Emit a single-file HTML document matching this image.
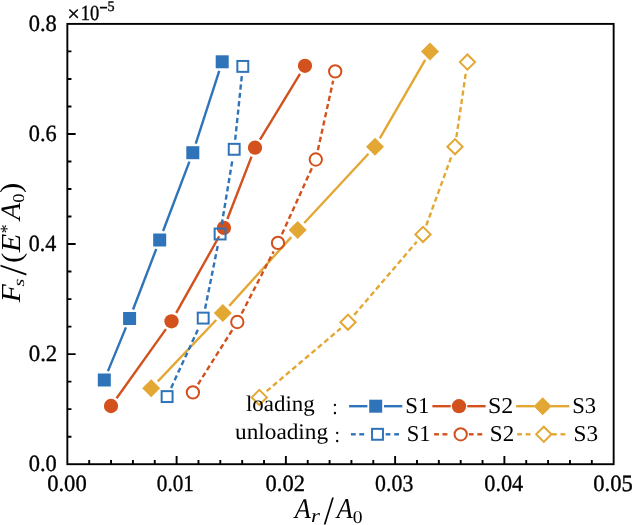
<!DOCTYPE html>
<html><head><meta charset="utf-8"><style>
html,body{margin:0;padding:0;background:#fff;}
svg{display:block;}
svg{will-change:transform;}
.b{stroke:#000;stroke-width:0.35px;}
text{text-rendering:geometricPrecision;}
</style></head><body>
<svg width="632" height="525" viewBox="0 0 632 525">
<line x1="107.95" y1="371.12" x2="125.95" y2="327.38" stroke="#2f73b8" stroke-width="2.4" />
<line x1="133.04" y1="309.54" x2="156.26" y2="248.96" stroke="#2f73b8" stroke-width="2.4" />
<line x1="163.10" y1="231.02" x2="189.40" y2="161.68" stroke="#2f73b8" stroke-width="2.4" />
<line x1="195.75" y1="143.57" x2="219.25" y2="70.93" stroke="#2f73b8" stroke-width="2.4" />
<rect x="97.80" y="373.50" width="13" height="13" fill="#2f73b8"/>
<rect x="123.10" y="312.00" width="13" height="13" fill="#2f73b8"/>
<rect x="153.20" y="233.50" width="13" height="13" fill="#2f73b8"/>
<rect x="186.30" y="146.20" width="13" height="13" fill="#2f73b8"/>
<rect x="215.70" y="55.30" width="13" height="13" fill="#2f73b8"/>
<line x1="116.58" y1="398.19" x2="165.92" y2="329.11" stroke="#d2511d" stroke-width="2.4" />
<line x1="176.20" y1="312.93" x2="219.20" y2="236.27" stroke="#d2511d" stroke-width="2.4" />
<line x1="227.37" y1="218.95" x2="251.53" y2="156.65" stroke="#d2511d" stroke-width="2.4" />
<line x1="260.00" y1="139.51" x2="300.00" y2="73.99" stroke="#d2511d" stroke-width="2.4" />
<circle cx="111.00" cy="406.00" r="7.15" fill="#d2511d"/>
<circle cx="171.50" cy="321.30" r="7.15" fill="#d2511d"/>
<circle cx="223.90" cy="227.90" r="7.15" fill="#d2511d"/>
<circle cx="255.00" cy="147.70" r="7.15" fill="#d2511d"/>
<circle cx="305.00" cy="65.80" r="7.15" fill="#d2511d"/>
<line x1="157.82" y1="381.34" x2="216.18" y2="319.96" stroke="#e3a733" stroke-width="2.4" />
<line x1="229.23" y1="305.87" x2="291.27" y2="237.13" stroke="#e3a733" stroke-width="2.4" />
<line x1="304.23" y1="222.96" x2="368.47" y2="153.74" stroke="#e3a733" stroke-width="2.4" />
<line x1="379.81" y1="138.39" x2="425.19" y2="59.91" stroke="#e3a733" stroke-width="2.4" />
<path d="M142.20 388.30L151.20 379.30L160.20 388.30L151.20 397.30Z" fill="#e3a733"/>
<path d="M213.80 313.00L222.80 304.00L231.80 313.00L222.80 322.00Z" fill="#e3a733"/>
<path d="M288.70 230.00L297.70 221.00L306.70 230.00L297.70 239.00Z" fill="#e3a733"/>
<path d="M366.00 146.70L375.00 137.70L384.00 146.70L375.00 155.70Z" fill="#e3a733"/>
<path d="M421.00 51.60L430.00 42.60L439.00 51.60L430.00 60.60Z" fill="#e3a733"/>
<line x1="171.11" y1="387.88" x2="199.19" y2="326.82" stroke="#2f73b8" stroke-width="2.4" stroke-dasharray="5.2 3.2"/>
<line x1="205.09" y1="308.69" x2="218.21" y2="243.41" stroke="#2f73b8" stroke-width="2.4" stroke-dasharray="5.2 3.2"/>
<line x1="221.68" y1="224.53" x2="232.62" y2="158.77" stroke="#2f73b8" stroke-width="2.4" stroke-dasharray="5.2 3.2"/>
<line x1="235.19" y1="139.75" x2="241.81" y2="75.95" stroke="#2f73b8" stroke-width="2.4" stroke-dasharray="5.2 3.2"/>
<rect x="161.65" y="391.15" width="10.9" height="10.9" fill="none" stroke="#2f73b8" stroke-width="2.0"/>
<rect x="197.75" y="312.65" width="10.9" height="10.9" fill="none" stroke="#2f73b8" stroke-width="2.0"/>
<rect x="214.65" y="228.55" width="10.9" height="10.9" fill="none" stroke="#2f73b8" stroke-width="2.0"/>
<rect x="228.75" y="143.85" width="10.9" height="10.9" fill="none" stroke="#2f73b8" stroke-width="2.0"/>
<rect x="237.35" y="60.95" width="10.9" height="10.9" fill="none" stroke="#2f73b8" stroke-width="2.0"/>
<line x1="198.02" y1="384.28" x2="232.18" y2="330.12" stroke="#d2511d" stroke-width="2.4" stroke-dasharray="5.2 3.2"/>
<line x1="241.69" y1="313.46" x2="273.61" y2="251.44" stroke="#d2511d" stroke-width="2.4" stroke-dasharray="5.2 3.2"/>
<line x1="281.96" y1="234.16" x2="311.84" y2="168.24" stroke="#d2511d" stroke-width="2.4" stroke-dasharray="5.2 3.2"/>
<line x1="317.86" y1="150.12" x2="333.14" y2="80.78" stroke="#d2511d" stroke-width="2.4" stroke-dasharray="5.2 3.2"/>
<circle cx="192.90" cy="392.40" r="6.15" fill="none" stroke="#d2511d" stroke-width="2.0"/>
<circle cx="237.30" cy="322.00" r="6.15" fill="none" stroke="#d2511d" stroke-width="2.0"/>
<circle cx="278.00" cy="242.90" r="6.15" fill="none" stroke="#d2511d" stroke-width="2.0"/>
<circle cx="315.80" cy="159.50" r="6.15" fill="none" stroke="#d2511d" stroke-width="2.0"/>
<circle cx="335.20" cy="71.40" r="6.15" fill="none" stroke="#d2511d" stroke-width="2.0"/>
<line x1="266.62" y1="391.19" x2="340.68" y2="328.41" stroke="#e3a733" stroke-width="2.4" stroke-dasharray="5.2 3.2"/>
<line x1="354.24" y1="314.90" x2="416.76" y2="241.70" stroke="#e3a733" stroke-width="2.4" stroke-dasharray="5.2 3.2"/>
<line x1="426.29" y1="225.38" x2="451.71" y2="155.72" stroke="#e3a733" stroke-width="2.4" stroke-dasharray="5.2 3.2"/>
<line x1="456.39" y1="137.20" x2="466.01" y2="71.60" stroke="#e3a733" stroke-width="2.4" stroke-dasharray="5.2 3.2"/>
<path d="M251.70 397.40L259.30 389.80L266.90 397.40L259.30 405.00Z" fill="none" stroke="#e3a733" stroke-width="2.0"/>
<path d="M340.40 322.20L348.00 314.60L355.60 322.20L348.00 329.80Z" fill="none" stroke="#e3a733" stroke-width="2.0"/>
<path d="M415.40 234.40L423.00 226.80L430.60 234.40L423.00 242.00Z" fill="none" stroke="#e3a733" stroke-width="2.0"/>
<path d="M447.40 146.70L455.00 139.10L462.60 146.70L455.00 154.30Z" fill="none" stroke="#e3a733" stroke-width="2.0"/>
<path d="M459.80 62.10L467.40 54.50L475.00 62.10L467.40 69.70Z" fill="none" stroke="#e3a733" stroke-width="2.0"/>
<path d="M89.20 464.20V460.10M111.05 464.20V460.10M132.91 464.20V460.10M154.76 464.20V460.10M176.61 464.20V455.90M198.46 464.20V460.10M220.31 464.20V460.10M242.17 464.20V460.10M264.02 464.20V460.10M285.87 464.20V455.90M307.72 464.20V460.10M329.57 464.20V460.10M351.43 464.20V460.10M373.28 464.20V460.10M395.13 464.20V455.90M416.98 464.20V460.10M438.83 464.20V460.10M460.69 464.20V460.10M482.54 464.20V460.10M504.39 464.20V455.90M526.24 464.20V460.10M548.09 464.20V460.10M569.95 464.20V460.10M591.80 464.20V460.10M67.35 436.68H71.45M67.35 409.16H71.45M67.35 381.64H71.45M67.35 354.12H75.65M67.35 326.61H71.45M67.35 299.09H71.45M67.35 271.57H71.45M67.35 244.05H75.65M67.35 216.53H71.45M67.35 189.01H71.45M67.35 161.49H71.45M67.35 133.97H75.65M67.35 106.46H71.45M67.35 78.94H71.45M67.35 51.42H71.45" stroke="#000" stroke-width="1.9" fill="none"/>
<rect x="67.35" y="23.90" width="546.30" height="440.30" fill="none" stroke="#000" stroke-width="1.9"/>
<text class="b" font-family="Liberation Serif" font-size="23.263" fill="#000" transform="translate(47.138 491.071) scale(0.9733 1)">0.00</text>
<text class="b" font-family="Liberation Serif" font-size="23.263" fill="#000" transform="translate(156.791 491.071) scale(0.9134 1)">0.01</text>
<text class="b" font-family="Liberation Serif" font-size="23.263" fill="#000" transform="translate(265.543 491.071) scale(0.9678 1)">0.02</text>
<text class="b" font-family="Liberation Serif" font-size="23.263" fill="#000" transform="translate(375.067 491.071) scale(0.9405 1)">0.03</text>
<text class="b" font-family="Liberation Serif" font-size="23.263" fill="#000" transform="translate(484.251 491.071) scale(0.9579 1)">0.04</text>
<text class="b" font-family="Liberation Serif" font-size="23.263" fill="#000" transform="translate(593.237 491.071) scale(0.9739 1)">0.05</text>
<text class="b" font-family="Liberation Serif" font-size="23.263" fill="#000" transform="translate(28.743 470.921) scale(0.9668 1)">0.0</text>
<text class="b" font-family="Liberation Serif" font-size="23.263" fill="#000" transform="translate(28.731 360.846) scale(0.9811 1)">0.2</text>
<text class="b" font-family="Liberation Serif" font-size="23.263" fill="#000" transform="translate(28.760 250.771) scale(0.9487 1)">0.4</text>
<text class="b" font-family="Liberation Serif" font-size="23.263" fill="#000" transform="translate(28.749 140.696) scale(0.9600 1)">0.6</text>
<text class="b" font-family="Liberation Serif" font-size="23.263" fill="#000" transform="translate(28.743 30.621) scale(0.9668 1)">0.8</text>
<text class="b" font-family="Liberation Serif" font-size="22.101" fill="#000" transform="translate(67.130 21.049) scale(1.0123 1)">×</text>
<text class="b" font-family="Liberation Serif" font-size="21.636" fill="#000" transform="translate(80.771 19.689) scale(0.8567 1)">10</text>
<text class="b" font-family="Liberation Serif" font-size="28.110" fill="#000" transform="translate(99.251 16.933) scale(0.5352 1)">−</text>
<text class="b" font-family="Liberation Serif" font-size="14.596" fill="#000" transform="translate(107.478 10.857) scale(0.9694 1)">5</text>
<text font-family="Liberation Serif" font-style="italic" font-size="28.327" fill="#000" transform="translate(294.839 517.900) scale(0.9288 1)">A</text>
<text font-family="Liberation Serif" font-style="italic" font-size="18.888" fill="#000" transform="translate(310.966 522.400) scale(1.2198 1)">r</text>
<text font-family="Liberation Serif" font-size="40.213" fill="#000" transform="translate(323.700 524.407) scale(0.9040 1)">/</text>
<text font-family="Liberation Serif" font-style="italic" font-size="28.781" fill="#000" transform="translate(336.631 518.200) scale(0.9090 1)">A</text>
<text font-family="Liberation Serif" font-size="18.227" fill="#000" transform="translate(352.854 522.522) scale(1.0744 1)">0</text>
<text font-family="Liberation Serif" font-style="italic" font-size="27.490" fill="#000" transform="translate(20.000 302.342) rotate(-90) scale(1.0718 1)">F</text>
<text font-family="Liberation Serif" font-style="italic" font-size="15.386" fill="#000" transform="translate(23.550 286.543) rotate(-90) scale(1.2936 1)">s</text>
<text font-family="Liberation Serif" font-size="38.718" fill="#000" transform="translate(25.722 275.400) rotate(-90) scale(1.0040 1)">/</text>
<text font-family="Liberation Serif" font-size="28.454" fill="#000" transform="translate(20.542 262.969) rotate(-90) scale(1.0947 1)">(</text>
<text font-family="Liberation Serif" font-style="italic" font-size="27.490" fill="#000" transform="translate(20.000 252.144) rotate(-90) scale(1.1037 1)">E</text>
<text font-family="Liberation Serif" font-size="18.817" fill="#000" transform="translate(13.421 233.396) rotate(-90) scale(0.9751 1)">*</text>
<text font-family="Liberation Serif" font-style="italic" font-size="28.024" fill="#000" transform="translate(20.000 220.055) rotate(-90) scale(1.0082 1)">A</text>
<text font-family="Liberation Serif" font-size="16.597" fill="#000" transform="translate(23.538 202.710) rotate(-90) scale(1.1230 1)">0</text>
<text font-family="Liberation Serif" font-size="29.005" fill="#000" transform="translate(20.425 192.991) rotate(-90) scale(1.0605 1)">)</text>
<text font-family="Liberation Serif" font-size="22.339" fill="#000" transform="translate(245.941 410.700) scale(1.0267 1)">loading</text>
<text font-family="Liberation Serif" font-size="22.339" fill="#000" transform="translate(234.993 438.700) scale(1.0426 1)">unloading</text>
<text font-family="Liberation Serif" font-size="22.135" fill="#000" transform="translate(332.254 413.887) scale(0.8830 1)">:</text>
<text font-family="Liberation Serif" font-size="22.135" fill="#000" transform="translate(334.454 442.187) scale(0.8830 1)">:</text>
<line x1="349.10" y1="406.2" x2="367.40" y2="406.2" stroke="#2f73b8" stroke-width="2.4"/>
<line x1="384.00" y1="406.2" x2="402.30" y2="406.2" stroke="#2f73b8" stroke-width="2.4"/>
<rect x="369.20" y="399.70" width="13" height="13" fill="#2f73b8"/>
<text font-family="Liberation Serif" font-size="22.623" fill="#000" transform="translate(405.274 412.779) scale(1.0085 1)">S1</text>
<line x1="432.40" y1="406.2" x2="450.70" y2="406.2" stroke="#d2511d" stroke-width="2.4"/>
<line x1="467.30" y1="406.2" x2="485.60" y2="406.2" stroke="#d2511d" stroke-width="2.4"/>
<circle cx="459.00" cy="406.20" r="7.15" fill="#d2511d"/>
<text font-family="Liberation Serif" font-size="22.623" fill="#000" transform="translate(487.896 412.779) scale(1.0600 1)">S2</text>
<line x1="516.10" y1="406.2" x2="534.40" y2="406.2" stroke="#e3a733" stroke-width="2.4"/>
<line x1="551.00" y1="406.2" x2="569.30" y2="406.2" stroke="#e3a733" stroke-width="2.4"/>
<path d="M533.70 406.20L542.70 397.20L551.70 406.20L542.70 415.20Z" fill="#e3a733"/>
<text font-family="Liberation Serif" font-size="22.623" fill="#000" transform="translate(572.186 412.779) scale(1.0002 1)">S3</text>
<line x1="350.90" y1="434.3" x2="355.70" y2="434.3" stroke="#2f73b8" stroke-width="2.4"/>
<line x1="359.30" y1="434.3" x2="364.20" y2="434.3" stroke="#2f73b8" stroke-width="2.4"/>
<line x1="385.70" y1="434.3" x2="390.40" y2="434.3" stroke="#2f73b8" stroke-width="2.4"/>
<line x1="394.20" y1="434.3" x2="399.00" y2="434.3" stroke="#2f73b8" stroke-width="2.4"/>
<rect x="372.05" y="428.85" width="10.9" height="10.9" fill="none" stroke="#2f73b8" stroke-width="2.0"/>
<text font-family="Liberation Serif" font-size="22.623" fill="#000" transform="translate(406.788 440.579) scale(0.9990 1)">S1</text>
<line x1="434.10" y1="434.3" x2="438.90" y2="434.3" stroke="#d2511d" stroke-width="2.4"/>
<line x1="442.50" y1="434.3" x2="447.40" y2="434.3" stroke="#d2511d" stroke-width="2.4"/>
<line x1="468.90" y1="434.3" x2="473.60" y2="434.3" stroke="#d2511d" stroke-width="2.4"/>
<line x1="477.40" y1="434.3" x2="482.20" y2="434.3" stroke="#d2511d" stroke-width="2.4"/>
<circle cx="460.70" cy="434.30" r="6.15" fill="none" stroke="#d2511d" stroke-width="2.0"/>
<text font-family="Liberation Serif" font-size="22.623" fill="#000" transform="translate(489.860 440.579) scale(1.0174 1)">S2</text>
<line x1="517.20" y1="434.3" x2="522.00" y2="434.3" stroke="#e3a733" stroke-width="2.4"/>
<line x1="525.60" y1="434.3" x2="530.50" y2="434.3" stroke="#e3a733" stroke-width="2.4"/>
<line x1="552.00" y1="434.3" x2="556.70" y2="434.3" stroke="#e3a733" stroke-width="2.4"/>
<line x1="560.50" y1="434.3" x2="565.30" y2="434.3" stroke="#e3a733" stroke-width="2.4"/>
<path d="M536.20 434.30L543.80 426.70L551.40 434.30L543.80 441.90Z" fill="none" stroke="#e3a733" stroke-width="2.0"/>
<text font-family="Liberation Serif" font-size="22.623" fill="#000" transform="translate(573.544 440.579) scale(1.0281 1)">S3</text>
</svg>
</body></html>
